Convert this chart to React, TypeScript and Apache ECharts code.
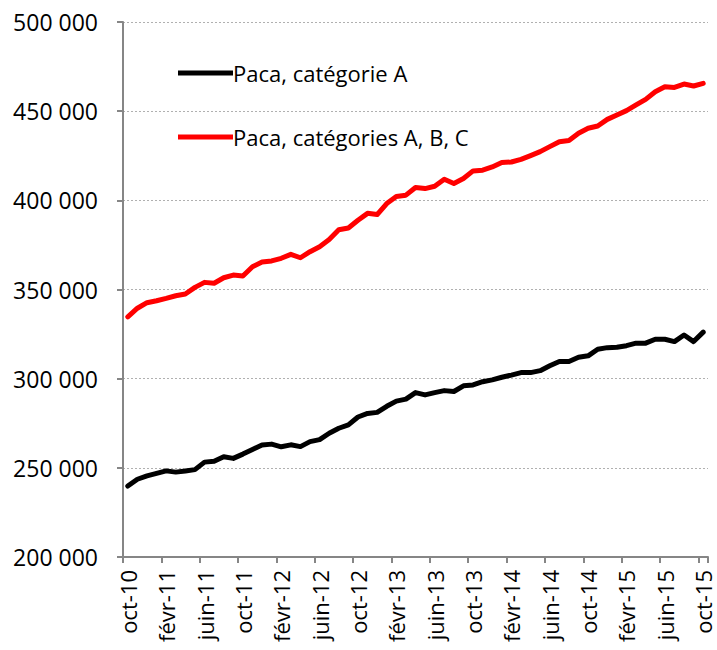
import React, { useEffect, useRef } from "react";
import * as echarts from "echarts";

const monthNames = ["janv", "févr", "mars", "avr", "mai", "juin", "juil", "août", "sept", "oct", "nov", "déc"];
// Monthly categories from oct-10 to oct-15
const categories: string[] = [];
for (let k = 0; k < 61; k++) {
  const m = (9 + k) % 12;
  const y = 10 + Math.floor((9 + k) / 12);
  categories.push(`${monthNames[m]}-${y}`);
}

const seriesAName = "Paca, catégorie A";
const seriesABCName = "Paca, catégories A, B, C";

const catA = [
  239800, 243600, 245500, 246900, 248300, 247600, 248200, 249000, 253200, 253700,
  256200, 255300, 257700, 260300, 262800, 263300, 261800, 262900, 261900, 264700,
  265800, 269400, 272200, 274100, 278500, 280500, 281100, 284500, 287400, 288500,
  292200, 290900, 292200, 293300, 292800, 296000, 296500, 298300, 299300, 300800,
  302000, 303400, 303400, 304500, 307200, 309600, 309600, 312000, 312800, 316500,
  317400, 317600, 318500, 319900, 319900, 322100, 322100, 320800, 324500, 320800,
  326100,
];

const catABC = [
  334700, 339500, 342600, 343700, 345000, 346500, 347500, 351200, 354000, 353500,
  356600, 358100, 357600, 362800, 365400, 366000, 367500, 369700, 367800, 371200,
  374000, 378000, 383500, 384500, 388800, 392700, 392000, 398200, 402200, 402900,
  407200, 406600, 407900, 411800, 409400, 412200, 416500, 416900, 418700, 421200,
  421500, 423000, 425100, 427300, 430100, 432900, 433500, 437600, 440400, 441700,
  445400, 447900, 450300, 453500, 456600, 460900, 463700, 463300, 465200, 464100,
  465600,
];

const yMin = 200000;
const yMax = 500000;
const yStep = 50000;

const FONT = "'Open Sans', sans-serif";

export default function App() {
  const ref = useRef<HTMLDivElement>(null);
  useEffect(() => {
    document.body.style.margin = "0";
    if (!ref.current) return;
    const chart = echarts.init(ref.current, null, { renderer: "svg" });
    chart.setOption({
      animation: false,
      backgroundColor: "#ffffff",
      textStyle: { fontFamily: FONT },
      grid: { left: 123, right: 9, top: 22, bottom: 93, containLabel: false },
      legend: {
        orient: "vertical",
        left: 173,
        top: 55,
        itemWidth: 55,
        itemHeight: 5,
        itemGap: 38,
        icon: "rect",
        selectedMode: false,
        textStyle: { fontFamily: FONT, fontSize: 22, color: "#000000", lineHeight: 26, padding: [0, 0, 0, -5] },
        data: [seriesAName, seriesABCName],
      },
      xAxis: {
        type: "category",
        data: categories,
        boundaryGap: true,
        axisLine: { lineStyle: { color: "#868686", width: 2 } },
        axisTick: { show: true, interval: 3, length: 6, lineStyle: { color: "#868686", width: 2 } },
        axisLabel: {
          interval: 3,
          rotate: 90,
          margin: 13,
          fontFamily: FONT,
          fontSize: 22,
          lineHeight: 20,
          color: "#000000",
        },
        splitLine: { show: false },
      },
      yAxis: {
        type: "value",
        min: yMin,
        max: yMax,
        interval: yStep,
        axisLine: { show: true, lineStyle: { color: "#868686", width: 2 } },
        axisTick: { show: true, length: 6, lineStyle: { color: "#868686", width: 2 } },
        axisLabel: {
          margin: 25,
          fontFamily: FONT,
          fontSize: 23,
          color: "#000000",
          formatter: (v: number) => String(v).replace(/\B(?=(\d{3})+(?!\d))/g, " "),
        },
        splitLine: { show: true, lineStyle: { color: "#b0b0b0", width: 1, type: [2, 2] } },
      },
      series: [
        {
          name: seriesAName,
          type: "line",
          data: catA,
          showSymbol: false,
          symbol: "none",
          lineStyle: { color: "#000000", width: 5, join: "round", cap: "round" },
          itemStyle: { color: "#000000" },
          z: 3,
        },
        {
          name: seriesABCName,
          type: "line",
          data: catABC,
          showSymbol: false,
          symbol: "none",
          lineStyle: { color: "#ff0000", width: 5, join: "round", cap: "round" },
          itemStyle: { color: "#ff0000" },
          z: 3,
        },
      ],
    });
    return () => chart.dispose();
  }, []);
  return <div ref={ref} style={{ width: 717, height: 650 }} />;
}
